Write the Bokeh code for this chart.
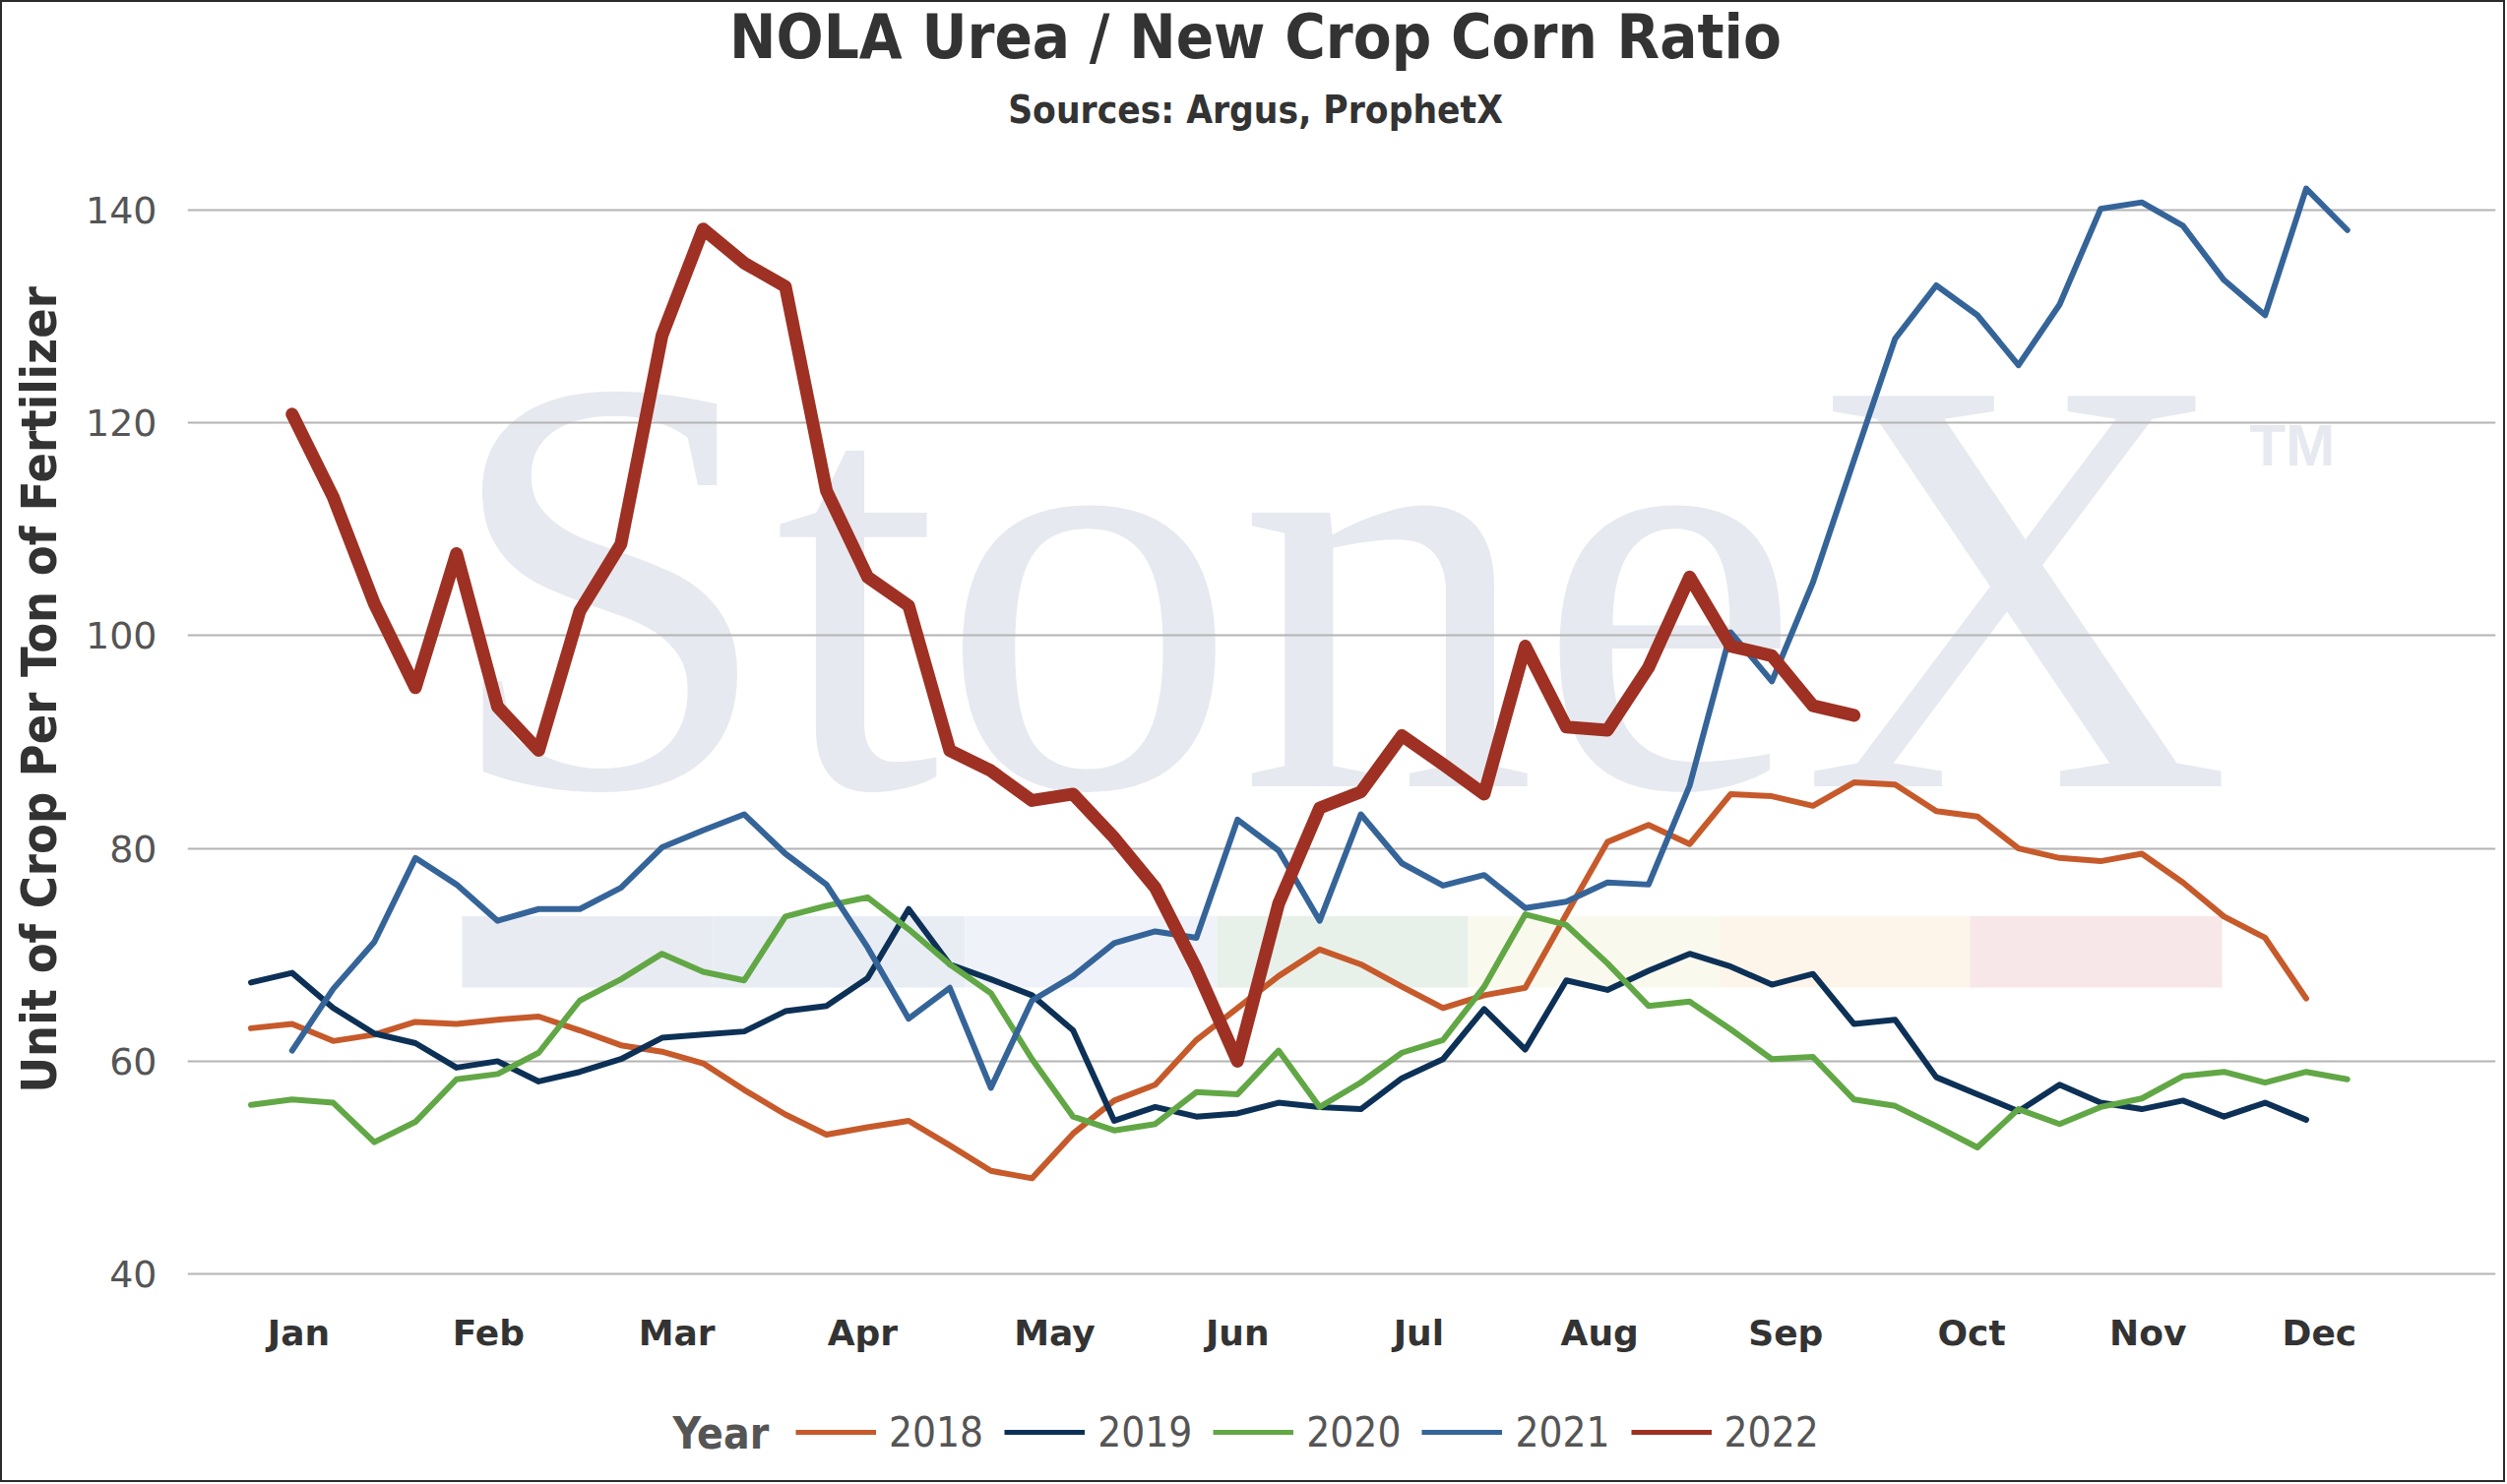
from bokeh.embed import file_html
from bokeh.layouts import column, row
from bokeh.models import BoxAnnotation, FixedTicker, Label, Legend, LegendItem, Range1d
from bokeh.plotting import figure
from bokeh.resources import INLINE

# ---- data (weekly ratio) ----
years = ["2018", "2019", "2020", "2021", "2022"]
months = ["Jan", "Feb", "Mar", "Apr", "May", "Jun",
          "Jul", "Aug", "Sep", "Oct", "Nov", "Dec"]

y2018 = [63.1, 63.5, 61.9, 62.5, 63.7, 63.5, 63.9, 64.2, 62.9, 61.5, 60.9, 59.8, 57.3,
         55.0, 53.1, 53.8, 54.4, 52.1, 49.7, 49.0, 53.2, 56.3, 57.8, 62.0, 65.0, 68.0,
         70.5, 69.1, 67.0, 65.0, 66.2, 66.9, 73.8, 80.6, 82.2, 80.4, 85.1, 84.9, 84.0,
         86.2, 86.0, 83.5, 83.0, 80.0, 79.1, 78.8, 79.5, 76.8, 73.6, 71.6, 65.9]
y2019 = [67.4, 68.3, 65.0, 62.6, 61.7, 59.4, 60.0, 58.1, 59.0, 60.2, 62.2, 62.5, 62.8,
         64.7, 65.2, 67.8, 74.3, 69.1, 67.7, 66.2, 62.9, 54.4, 55.7, 54.8, 55.1, 56.1,
         55.7, 55.5, 58.4, 60.2, 64.9, 61.1, 67.6, 66.7, 68.5, 70.1, 68.9, 67.2, 68.2,
         63.5, 63.9, 58.5, 56.9, 55.3, 57.8, 56.1, 55.5, 56.3, 54.8, 56.1, 54.5]
y2020 = [55.9, 56.4, 56.1, 52.4, 54.3, 58.3, 58.8, 60.8, 65.7, 67.7, 70.1, 68.4, 67.6,
         73.6, 74.6, 75.4, 72.4, 69.1, 66.4, 60.2, 54.8, 53.5, 54.1, 57.1, 56.9, 61.0,
         55.7, 58.0, 60.8, 62.0, 67.0, 73.8, 72.8, 69.2, 65.2, 65.6, 63.0, 60.2, 60.4,
         56.4, 55.8, 53.9, 51.9, 55.5, 54.1, 55.7, 56.5, 58.6, 59.0, 58.0, 59.0, 58.3]
y2021 = [61.0, 66.8, 71.2, 79.1, 76.6, 73.2, 74.3, 74.3, 76.3, 80.1, 81.7, 83.2,
         79.5, 76.6, 70.7, 64.0, 66.9, 57.5, 65.7, 68.0, 71.1, 72.2, 71.6, 82.7, 79.8,
         73.2, 83.2, 78.6, 76.5, 77.5, 74.4, 75.0, 76.8, 76.6, 85.9, 100.3, 95.7, 105.0,
         116.5, 127.9, 132.9, 130.1, 125.4, 131.1, 140.1, 140.7, 138.5, 133.4, 130.1,
         142.0, 138.1]
y2022 = [120.8, 113.0, 103.0, 95.1, 107.7, 93.3, 89.2, 102.3, 108.6, 128.2, 138.2,
         135.0, 132.8, 113.6, 105.5, 102.8, 89.2, 87.3, 84.5, 85.1, 81.0, 76.3, 68.7,
         60.0, 74.8, 83.8, 85.3, 90.6, 87.9, 85.1, 99.0, 91.4, 91.1, 97.0, 105.5, 99.0,
         98.1, 93.4, 92.5]
first_week = [0, 0, 0, 1, 1]   # 2021 and 2022 start one week later

series = [y2018, y2019, y2020, y2021, y2022]
colors = ["#C65A2B", "#0D3156", "#62A745", "#356499", "#9E3123"]
widths = [6, 6, 6, 6, 13]

# month label positions, in weeks
month_pos = [1.16, 5.78, 10.36, 14.88, 19.55, 24.0, 28.41, 32.81, 37.34, 41.86, 46.15, 50.32]


# layout helpers: reference pixel -> data coordinates of the main plot
X0, DX = 254.5, 41.76
Y0, DY = 212.7, 10.815
BL = 0.32   # alphabetic baseline correction, in em


def px(x):
    return (x - X0) / DX


def py(y):
    return 140 - (y - Y0) / DY


W = 2541
H_HEAD, H_MAIN, H_FOOT, W_LEFT = 146, 1254, 102, 70
COND = "DejaVu Sans Condensed"


def blank(w, h):
    f = figure(width=w, height=h, output_backend="svg", toolbar_location=None,
               x_range=Range1d(0, w), y_range=Range1d(0, h), x_axis_type=None,
               y_axis_type=None, min_border=0, outline_line_color=None)
    return f


# header: title and subtitle
head = blank(W, H_HEAD)
head.add_layout(Label(x=1273, y=H_HEAD - 55 + BL * 63, text="NOLA Urea / New Crop Corn Ratio",
                      text_font=COND, text_font_style="bold", text_font_size="63px",
                      text_color="#333333", text_align="center", text_baseline="alphabetic"))
head.add_layout(Label(x=1273, y=H_HEAD - 121 + BL * 38.5, text="Sources: Argus, ProphetX",
                      text_font=COND, text_font_style="bold", text_font_size="38.5px",
                      text_color="#333333", text_align="center", text_baseline="alphabetic"))

# left strip: y axis title
left = blank(W_LEFT, H_MAIN)
left.add_layout(Label(x=53 - BL * 50, y=H_MAIN - (698 - H_HEAD) - 44, angle=90,
                      angle_units="deg", text="Unit of Crop Per Ton of Fertilizer",
                      text_font=COND, text_font_style="bold", text_font_size="50px",
                      text_color="#333333", text_align="center", text_baseline="alphabetic"))

# main plot
p = figure(width=W - W_LEFT, height=H_MAIN, output_backend="svg", toolbar_location=None,
           x_range=Range1d(px(190), px(2535)), y_range=Range1d(py(1310), py(148)),
           min_border_left=188 - W_LEFT, min_border_right=8, min_border_top=0,
           min_border_bottom=H_MAIN - 1162, outline_line_color=None)

# watermark
seg_edges = [469, 724, 980, 1236, 1491, 1746, 2001, 2257]
seg_colors = ["#E8EBF1", "#E8EDF4", "#EFF3F9", "#E8F0EA", "#F9F9EE", "#FDF5E9", "#F7E7E8"]
for i, c in enumerate(seg_colors):
    p.add_layout(BoxAnnotation(left=px(seg_edges[i]), right=px(seg_edges[i + 1]),
                               top=py(930.5), bottom=py(1003), fill_color=c, fill_alpha=1,
                               line_color=None, level="image"))
p.add_layout(Label(x=px(1358), y=py(788 - BL * 606), text="StoneX", text_font="Liberation Serif",
                   text_font_size="606px", text_color="#E6E9EF", text_align="center",
                   text_baseline="alphabetic", level="image"))
p.add_layout(Label(x=px(2285), y=py(471 - BL * 60), text="TM", text_font="Liberation Sans",
                   text_font_style="bold", text_font_size="60px", text_color="#E6E9EF",
                   text_align="left", text_baseline="alphabetic", level="image"))

for yr, vals, start, c, w in zip(years, series, first_week, colors, widths):
    weeks = list(range(start, start + len(vals)))
    p.line(weeks, vals, line_color=c, line_width=w, line_join="round", line_cap="round")

p.xgrid.visible = False
p.ygrid.grid_line_color = "#B4B4B4"
p.ygrid.grid_line_width = 2
p.ygrid.ticker = FixedTicker(ticks=[40, 60, 80, 100, 120, 140])

p.yaxis.ticker = FixedTicker(ticks=[40, 60, 80, 100, 120, 140])
p.yaxis.axis_line_color = None
p.yaxis.major_tick_line_color = None
p.yaxis.minor_tick_line_color = None
p.yaxis.major_label_text_font = "DejaVu Sans"
p.yaxis.major_label_text_font_size = "38px"
p.yaxis.major_label_text_color = "#555555"
p.yaxis.major_label_standoff = 25

p.xaxis.ticker = FixedTicker(ticks=month_pos)
p.xaxis.major_label_overrides = {m: lab for m, lab in zip(month_pos, months)}
p.xaxis.axis_line_color = None
p.xaxis.major_tick_line_color = None
p.xaxis.minor_tick_line_color = None
p.xaxis.major_label_text_font = "DejaVu Sans"
p.xaxis.major_label_text_font_style = "bold"
p.xaxis.major_label_text_font_size = "36px"
p.xaxis.major_label_text_color = "#333333"
p.xaxis.major_label_standoff = 17

# footer: legend (swatch lines sit outside the visible range)
foot = blank(W, H_FOOT)
foot.add_layout(Label(x=681, y=H_FOOT - 68 + BL * 44, text="Year", text_font=COND,
                      text_font_style="bold", text_font_size="44px", text_color="#555555",
                      text_align="left", text_baseline="alphabetic"))
items = []
for yr, c in zip(years, colors):
    r = foot.line([-200, -100], [-200, -200], line_color=c, line_width=5)
    items.append(LegendItem(label=yr, renderers=[r]))
foot.add_layout(Legend(items=items, orientation="horizontal", location=(806, H_FOOT - 78),
                       glyph_width=82, glyph_height=50, label_height=50, label_standoff=13,
                       spacing=21, padding=0, margin=0, border_line_color=None,
                       background_fill_alpha=0, label_text_font=COND,
                       label_text_font_size="42px", label_text_color="#555555"))

page = column(head, row(left, p), foot)
page.styles = {"border": "2px solid #2b2b2b"}

open("out.html", "w").write(file_html(page, INLINE))
